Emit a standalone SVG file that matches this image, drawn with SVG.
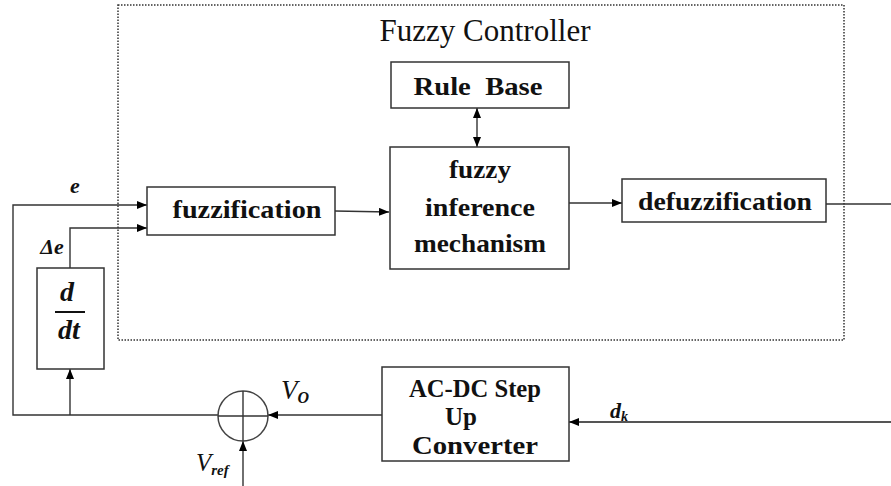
<svg xmlns="http://www.w3.org/2000/svg" width="891" height="486" viewBox="0 0 891 486">
<defs>
<marker id="ah" viewBox="0 0 10 8" refX="10" refY="4" markerWidth="10" markerHeight="8" markerUnits="userSpaceOnUse" orient="auto-start-reverse">
<path d="M0,0 L10,4 L0,8 Z" fill="#000"/>
</marker>
</defs>
<style>
.box{fill:#fff;stroke:#333;stroke-width:1.5}
.ln{fill:none;stroke:#333;stroke-width:1.4}
.bt{font-family:"Liberation Serif",serif;font-weight:bold;font-size:25px;fill:#111;text-anchor:middle}
.it{font-family:"Liberation Serif",serif;font-style:italic;fill:#111}
</style>
<rect id="fuzzy-controller" x="118" y="5" width="726" height="335" fill="none" stroke="#333" stroke-width="1.5" stroke-dasharray="1.5,1.5"/>
<text x="485" y="41" font-family="'Liberation Serif',serif" font-size="31" fill="#111" text-anchor="middle">Fuzzy Controller</text>
<g id="connectors">
<line class="ln" x1="477" y1="108" x2="477" y2="147" marker-start="url(#ah)" marker-end="url(#ah)"/>
<line class="ln" x1="335" y1="211" x2="389" y2="212" marker-end="url(#ah)"/>
<line class="ln" x1="569" y1="203" x2="622" y2="203" marker-end="url(#ah)"/>
<line class="ln" x1="826" y1="204" x2="891" y2="204"/>
<line x1="891" y1="422" x2="569" y2="422" stroke="#555" stroke-width="2" marker-end="url(#ah)"/>
<line class="ln" x1="382" y1="415" x2="268" y2="415" marker-end="url(#ah)"/>
<polyline class="ln" points="218,415 13,415 13,205 147,205" marker-end="url(#ah)"/>
<polyline class="ln" points="70,268 70,228 147,228" marker-end="url(#ah)"/>
<line class="ln" x1="70" y1="415" x2="70" y2="369" marker-end="url(#ah)"/>
<line class="ln" x1="243" y1="486" x2="243" y2="441" marker-end="url(#ah)"/>
</g>
<g id="rule-base">
<rect class="box" x="391" y="62" width="178" height="46"/>
<text class="bt" x="478" y="95" font-size="24" textLength="129" lengthAdjust="spacingAndGlyphs">Rule&#160; Base</text>
</g>
<g id="inference">
<rect class="box" x="390" y="147" width="179" height="122"/>
<text class="bt" x="480" y="178" textLength="62" lengthAdjust="spacingAndGlyphs">fuzzy</text>
<text class="bt" x="480" y="216" textLength="110" lengthAdjust="spacingAndGlyphs">inference</text>
<text class="bt" x="480" y="252" textLength="132" lengthAdjust="spacingAndGlyphs">mechanism</text>
</g>
<g id="fuzzification">
<rect class="box" x="147" y="187" width="188" height="48"/>
<text class="bt" x="247" y="218" textLength="149" lengthAdjust="spacingAndGlyphs">fuzzification</text>
</g>
<g id="defuzzification">
<rect class="box" x="622" y="179" width="204" height="43"/>
<text class="bt" x="725" y="210" textLength="174" lengthAdjust="spacingAndGlyphs">defuzzification</text>
</g>
<g id="converter">
<rect class="box" x="382" y="367" width="187" height="94"/>
<text class="bt" x="475" y="397" font-size="19" textLength="132" lengthAdjust="spacingAndGlyphs">AC-DC Step</text>
<text class="bt" x="461" y="425" font-size="19">Up</text>
<text class="bt" x="475" y="454" font-size="19" textLength="126" lengthAdjust="spacingAndGlyphs">Converter</text>
</g>
<g id="derivative">
<rect class="box" x="37" y="268" width="67" height="101"/>
<text class="it" x="67" y="301" font-size="28" font-weight="bold" text-anchor="middle">d</text>
<line x1="55" y1="312" x2="85" y2="312" stroke="#111" stroke-width="2"/>
<text class="it" x="69" y="339" font-size="28" font-weight="bold" text-anchor="middle">dt</text>
</g>
<g id="sum">
<circle cx="243" cy="416" r="25" fill="#fff" stroke="#444" stroke-width="1.5"/>
<line class="ln" x1="218" y1="416" x2="268" y2="416"/>
<line class="ln" x1="243" y1="391" x2="243" y2="441"/>
</g>
<g id="labels">
<text class="it" x="75" y="193" font-size="22" font-weight="bold" text-anchor="middle">e</text>
<text class="it" x="52" y="254" font-size="22" font-weight="bold" text-anchor="middle">Δe</text>
<text class="it" x="281" y="399" font-size="27">V<tspan font-size="16" font-weight="bold" dy="4">O</tspan></text>
<text class="it" x="196" y="471" font-size="25">V<tspan font-size="15" font-weight="bold" dy="4">ref</tspan></text>
<text class="it" x="610" y="418" font-size="22" font-weight="bold">d<tspan font-size="14" dy="3">k</tspan></text>
</g>
</svg>
